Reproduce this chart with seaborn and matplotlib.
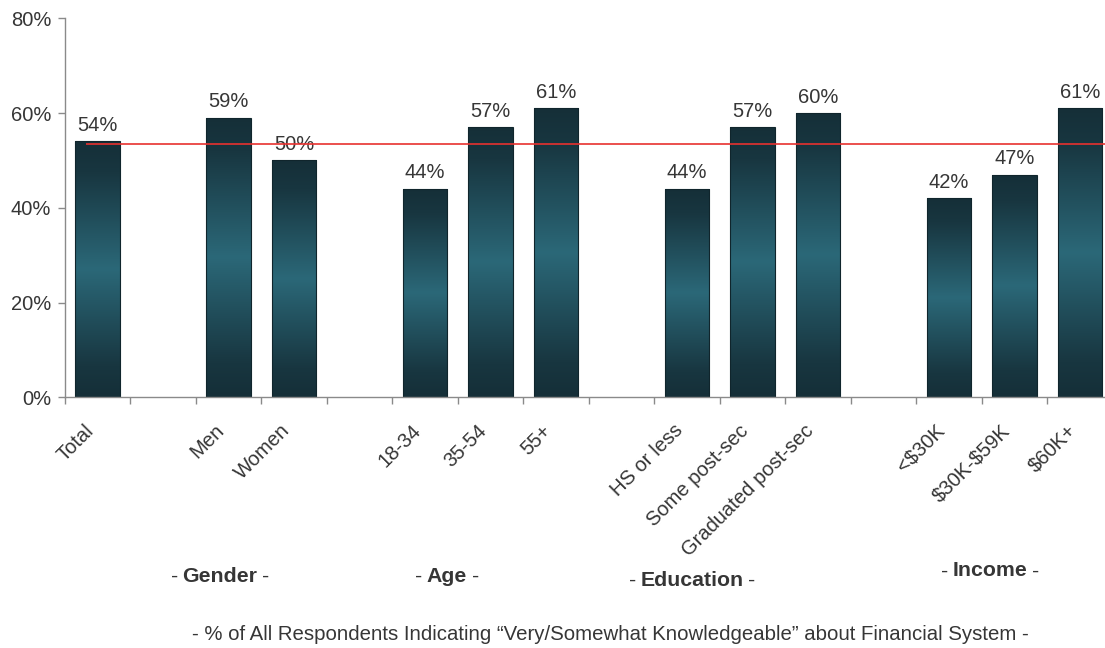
import numpy as np
import pandas as pd
import matplotlib
matplotlib.use("Agg")
import matplotlib.pyplot as plt
import matplotlib.transforms as mtransforms
from matplotlib.colors import LinearSegmentedColormap
import seaborn as sns

# ---------------- data ----------------
categories = ["Total", "Men", "Women", "18-34", "35-54", "55+",
              "HS or less", "Some post-sec", "Graduated post-sec",
              "<$30K", "$30K-$59K", "$60K+"]
values = [54, 59, 50, 44, 57, 61, 44, 57, 60, 42, 47, 61]
slot_order = ["Total", "gap1", "Men", "Women", "gap2", "18-34", "35-54", "55+",
              "gap3", "HS or less", "Some post-sec", "Graduated post-sec",
              "gap4", "<$30K", "$30K-$59K", "$60K+"]
group_names = ["Gender", "Age", "Education", "Income"]
average_value = 53.4
y_ticks = [0, 20, 40, 60, 80]
footer = "- % of All Respondents Indicating \u201cVery/Somewhat Knowledgeable\u201d about Financial System -"

# ---------------- style ----------------
sns.set_style("white")
plt.rcParams["font.family"] = ["Liberation Sans", "DejaVu Sans"]
TXT = "#363636"
FS = 14.5

W, H = 1105, 648
fig = plt.figure(figsize=(W / 100, H / 100), dpi=100)
ax = fig.add_axes([64.9 / W, 1 - 397.3 / H, 1048 / W, (397.3 - 18.3) / H])

df = pd.DataFrame({"cat": categories, "val": values})
sns.barplot(data=df, x="cat", y="val", order=slot_order, width=0.68,
            color="#2a6575", edgecolor="#10252c", linewidth=0.8, ax=ax,
            errorbar=None)

ax.set_xlim(-0.5, 15.5)
ax.set_ylim(0, 80)

# gradient fill on each bar
grad_cmap = LinearSegmentedColormap.from_list(
    "bar", [(0.0, "#152f38"), (0.12, "#183640"), (0.5, "#2b6878"),
            (0.88, "#183640"), (1.0, "#152f38")])
grad = np.linspace(0, 1, 256).reshape(-1, 1)
for p in list(ax.patches):
    x0, y0 = p.get_x(), p.get_y()
    w, h = p.get_width(), p.get_height()
    if not np.isfinite(h) or h == 0:
        continue
    im = ax.imshow(grad, cmap=grad_cmap, extent=[x0, x0 + w, y0, y0 + h],
                   aspect="auto", origin="upper", zorder=p.get_zorder() - 0.1,
                   interpolation="bilinear")
    im.set_clip_path(p)
    p.set_facecolor("none")
ax.set_xlim(-0.5, 15.5)
ax.set_ylim(0, 80)
ax.set_aspect("auto")

# value labels
pos = {c: i for i, c in enumerate(slot_order)}
for c, v in zip(categories, values):
    ax.annotate(f"{v}%", xy=(pos[c], v), xytext=(0, 7.5), textcoords="offset points",
                ha="center", va="baseline", fontsize=FS, color=TXT)

# average line
ax.hlines(average_value, -0.18, 15.5, color="#e8312f", linewidth=1.2, zorder=5)

# axes styling
for s in ["top", "right"]:
    ax.spines[s].set_visible(False)
for s in ["left", "bottom"]:
    ax.spines[s].set_color("#8a8a8a")
    ax.spines[s].set_linewidth(1.0)

ax.set_yticks(y_ticks)
ax.set_yticklabels([f"{t}%" for t in y_ticks], fontsize=FS, color=TXT)
ax.tick_params(axis="y", direction="out", length=5, width=1, color="#8a8a8a", pad=5, left=True)

ax.set_xticks([pos[c] for c in categories])
ax.set_xticklabels([c.replace("$", r"\$") for c in categories], rotation=45,
                   ha="right", rotation_mode="anchor", fontsize=FS, color=TXT)
ax.tick_params(axis="x", which="major", length=0, pad=17)
ax.set_xticks(np.arange(-0.5, 15.6, 1.0), minor=True)
ax.tick_params(axis="x", which="minor", direction="out", length=5, width=1,
               color="#8a8a8a", bottom=True)
offset = mtransforms.ScaledTranslation(-14 / 100, 0, fig.dpi_scale_trans)
for lab in ax.get_xticklabels():
    lab.set_transform(lab.get_transform() + offset)
ax.set_xlabel("")
ax.set_ylabel("")

# group labels with bold word
group_xy = [(220, 576), (447, 576), (692, 580), (990, 571)]
fig.canvas.draw()
renderer = fig.canvas.get_renderer()
for name, (gx, gy) in zip(group_names, group_xy):
    t = fig.text(gx / W, 1 - gy / H, name, ha="center", va="center",
                 fontsize=15.3, fontweight="bold", color=TXT)
    bb = t.get_window_extent(renderer)
    fig.text((bb.x0 - 4.5) / W, 1 - gy / H, "-", ha="right", va="center",
             fontsize=15.3, color=TXT)
    fig.text((bb.x1 + 4.5) / W, 1 - gy / H, "-", ha="left", va="center",
             fontsize=15.3, color=TXT)

fig.text(610 / W, 1 - 634 / H, footer, ha="center", va="center",
         fontsize=14.7, color=TXT)

fig.savefig("out.png", dpi=100)
